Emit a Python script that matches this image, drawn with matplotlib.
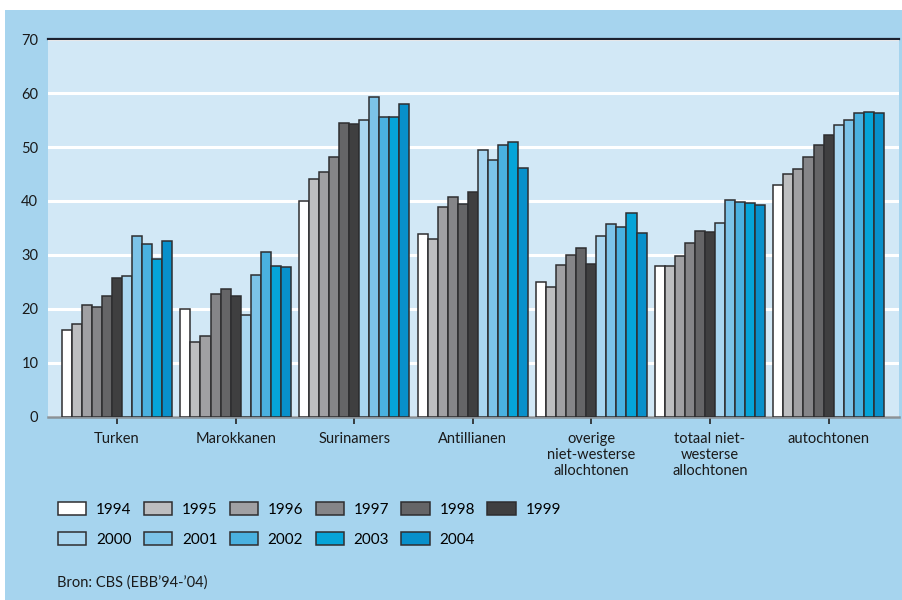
import numpy as np
import matplotlib.pyplot as plt
from matplotlib.patches import Rectangle

plt.rcParams["font.family"] = ["Lato", "DejaVu Sans"]

groups = ["Turken", "Marokkanen", "Surinamers", "Antillianen",
          "overige\nniet-westerse\nallochtonen",
          "totaal niet-\nwesterse\nallochtonen", "autochtonen"]
years = ["1994", "1995", "1996", "1997", "1998", "1999",
         "2000", "2001", "2002", "2003", "2004"]

# one list per group, values 1994..2004 (percent)
turken = [16.0, 17.1, 20.8, 20.4, 22.3, 25.8, 26.0, 33.5, 32.0, 29.2, 32.6]
marokkanen = [20.0, 13.9, 14.9, 22.8, 23.7, 22.3, 18.8, 26.2, 30.6, 28.0, 27.7]
surinamers = [40.0, 44.1, 45.3, 48.2, 54.4, 54.2, 55.0, 59.2, 55.6, 55.6, 57.9]
antillianen = [33.9, 33.0, 38.9, 40.8, 39.4, 41.6, 49.5, 47.6, 50.4, 51.0, 46.2]
overige = [24.9, 24.0, 28.1, 29.9, 31.2, 28.3, 33.6, 35.8, 35.1, 37.7, 34.1]
totaal = [28.0, 28.0, 29.8, 32.3, 34.4, 34.3, 36.0, 40.2, 39.9, 39.6, 39.3]
autochtonen = [43.0, 45.0, 45.9, 48.2, 50.3, 52.3, 54.0, 55.0, 56.3, 56.5, 56.4]

colors = ["#ffffff", "#bdbec0", "#a0a0a3", "#858588", "#656567", "#3f3f40",
          "#a9d6f0", "#7cc3e8", "#4ab1e0", "#05a4d8", "#0890cb"]

data = np.array([turken, marokkanen, surinamers, antillianen,
                 overige, totaal, autochtonen])

outer_bg = "#a6d4ee"
plot_bg = "#d2e8f6"

fig = plt.figure(figsize=(9.02, 6.0), dpi=100)
fig.patch.set_facecolor("white")
fig.patches.append(Rectangle((5 / 902, 0), 1, 590 / 600, transform=fig.transFigure,
                             facecolor=outer_bg, edgecolor="none", zorder=-10))

ax = fig.add_axes([48 / 902, 183.3 / 600, 851 / 902, 377.5 / 600])
ax.set_facecolor(plot_bg)

x = np.arange(len(groups))
width = 0.0846
handles = []
for j, yr in enumerate(years):
    offs = (j - 5) * width
    b = ax.bar(x + offs, data[:, j], width, color=colors[j],
               edgecolor="#2e2e30", linewidth=1.1, label=yr, zorder=3)
    handles.append(b)

ax.set_xlim(-0.582, 6.594)
ax.set_ylim(0, 70)
ax.set_yticks(range(0, 71, 10))
ax.yaxis.grid(True, color="white", linewidth=2.2, zorder=0)
ax.set_axisbelow(True)
ax.tick_params(axis="y", length=0, pad=7, labelsize=10.5, labelcolor="#1a1a1a")
ax.set_xticks(x)
ax.set_xticklabels(groups, fontsize=10.5, linespacing=1.2, color="#1a1a1a")
ax.tick_params(axis="x", length=5, width=1.2, color="#222222", pad=6)

for s in ["left", "right"]:
    ax.spines[s].set_visible(False)
ax.spines["top"].set_color("#1c2230")
ax.spines["top"].set_linewidth(1.6)
ax.spines["bottom"].set_color("#8a9298")
ax.spines["bottom"].set_linewidth(1.8)

# legend in two rows: 1994-1999 on top, 2000-2004 below
order = [0, 6, 1, 7, 2, 8, 3, 9, 4, 10, 5]
leg = fig.legend([handles[i] for i in order], [years[i] for i in order],
                 ncol=6, loc="upper left", bbox_to_anchor=(44 / 902, 1 - 488 / 600),
                 frameon=False, fontsize=11, handlelength=1.85, handleheight=0.95,
                 columnspacing=0.8, labelspacing=1.0, handletextpad=0.65)

fig.text(57 / 902, 1 - 583 / 600, "Bron: CBS (EBB\u201994-\u201904)", fontsize=10.5,
         color="#1a1a1a", va="center")

fig.savefig("out.png", dpi=100, facecolor=fig.get_facecolor())
